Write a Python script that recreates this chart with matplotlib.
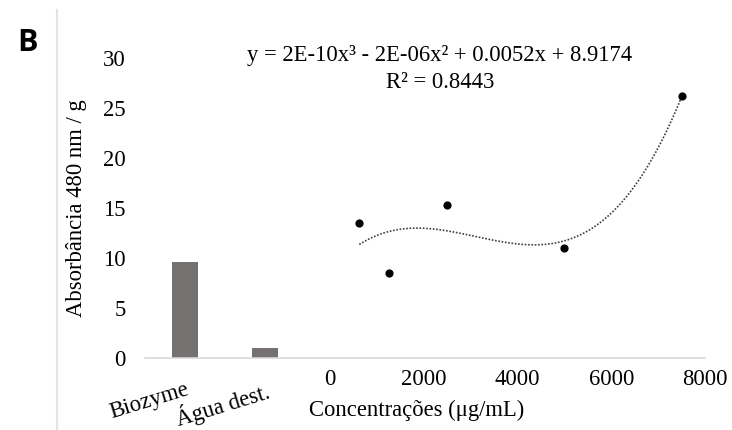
import numpy as np
import matplotlib
matplotlib.use("Agg")
import matplotlib.pyplot as plt
from matplotlib.lines import Line2D

# ---- data ----
categories = ["Biozyme", "Água dest."]
bar_values = [9.6, 1.0]
conc = [625, 1250, 2500, 5000, 7500]
absorb = [13.5, 8.45, 15.3, 10.95, 26.2]
yticks = [0, 5, 10, 15, 20, 25, 30]
xticks = [0, 2000, 4000, 6000, 8000]
equation = "y = 2E-10x³ - 2E-06x² + 0.0052x + 8.9174"
r2_text = "R² = 0.8443"

plt.rcParams['font.family'] = ['Liberation Serif', 'DejaVu Serif']
FS = 16.3
W, H = 732, 430
fig = plt.figure(figsize=(W / 100, H / 100), dpi=100)

x_left, x_mid, x_right = 145, 305, 705
y_bot, y_top = 358, 57.5
b = 1 - y_bot / H
h = (y_bot - y_top) / H

axL = fig.add_axes([x_left / W, b, (x_mid - x_left) / W, h])
axR = fig.add_axes([x_mid / W, b, (x_right - x_mid) / W, h])

spine_col = "#d9d9d9"
for ax in (axL, axR):
    ax.set_ylim(0, 30)
    for s in ("top", "right", "left"):
        ax.spines[s].set_visible(False)
    ax.spines["bottom"].set_color(spine_col)
    ax.spines["bottom"].set_linewidth(1.2)
    ax.set_facecolor("none")

# bars
pos = np.arange(len(categories))
axL.bar(pos, bar_values, width=0.32, color="#767171")
axL.set_xlim(-0.5, len(categories) - 0.5)
axL.set_yticks(yticks)
axL.tick_params(axis="y", length=0, pad=14, labelsize=FS)
axL.set_xticks(pos, labels=categories)
axL.tick_params(axis="x", length=0, pad=15, labelsize=FS, labelrotation=17)
for lab in axL.get_xticklabels():
    lab.set_ha("right")
    lab.set_rotation_mode("anchor")
axL.set_ylabel("Absorbância 480 nm / g", fontsize=FS)
axL.yaxis.set_label_coords(-0.36, 0.5)

# scatter + cubic trendline
axR.set_xlim(-533, 8000)
axR.set_yticks([])
axR.set_xticks(xticks)
axR.tick_params(axis="x", length=0, pad=8, labelsize=FS)
axR.scatter(conc, absorb, s=24, color="black", zorder=3)
coef = np.polyfit(conc, absorb, 3)
xs = np.linspace(min(conc), max(conc), 300)
axR.plot(xs, np.polyval(coef, xs), color="#404040", linestyle=(0, (1, 1)), linewidth=1.2)

fig.text(440 / W, 1 - 55 / H, equation, ha="center", va="center", fontsize=FS)
fig.text(440 / W, 1 - 82 / H, r2_text, ha="center", va="center", fontsize=FS)

fig.text(417 / W, 1 - 410 / H, "Concentrações (μg/mL)", ha="center", va="center", fontsize=FS)

fig.text(28 / W, 1 - 43 / H, "B", ha="center", va="center", fontsize=22,
         fontweight="bold", family=["Open Sans", "DejaVu Sans"])

fig.add_artist(Line2D([57 / W, 57 / W], [0, 1 - 10 / H], transform=fig.transFigure,
                      color="#e3e3e3", linewidth=1.5))

fig.savefig("out.png", dpi=100)
